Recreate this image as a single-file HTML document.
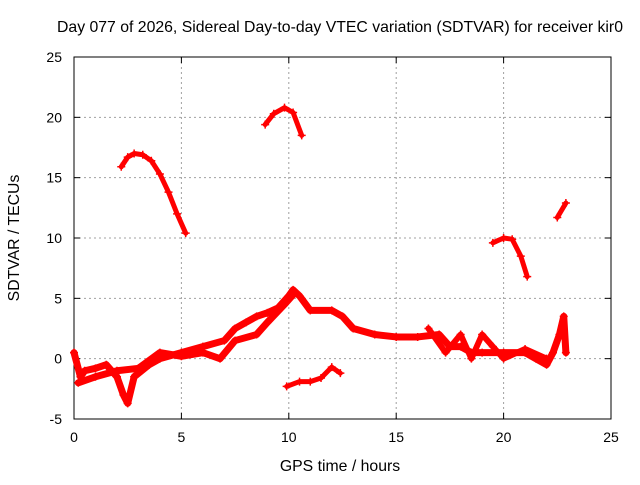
<!DOCTYPE html>
<html><head><meta charset="utf-8"><style>
body{margin:0;background:#fff}
svg text{font-family:"Liberation Sans",sans-serif;font-size:14px;fill:#000}
svg text.big{font-size:15.8px}
</style></head><body>
<svg id="chart" width="640" height="480" viewBox="0 0 640 480" xmlns="http://www.w3.org/2000/svg">
<rect width="640" height="480" fill="#fff"/>
<text class="big" x="340" y="32" text-anchor="middle">Day 077 of 2026, Sidereal Day-to-day VTEC variation (SDTVAR) for receiver kir0</text>
<text class="big" x="340" y="471" text-anchor="middle">GPS time / hours</text>
<text class="big" transform="translate(19,238) rotate(-90)" text-anchor="middle">SDTVAR / TECUs</text>
<g id="grid"></g><g id="axes"></g><g id="marks"></g>
</svg>
<script>
const xTicks=[0,5,10,15,20,25];
const yTicks=[-5,0,5,10,15,20,25];
const seriesArc1X=[2.2,2.5,2.8,3.2,3.6,4.0,4.4,4.8,5.2];
const seriesArc1Y=[15.9,16.7,17.0,16.9,16.4,15.3,13.8,12.0,10.4];
const seriesArc2X=[8.9,9.3,9.8,10.2,10.6];
const seriesArc2Y=[19.4,20.3,20.8,20.4,18.5];
const seriesArc3X=[19.5,20.0,20.4,20.8,21.1];
const seriesArc3Y=[9.6,10.0,9.9,8.5,6.8];
const seriesArc4X=[22.5,22.9];
const seriesArc4Y=[11.7,12.9];
const seriesLowX=[9.9,10.5,11.0,11.5,12.0,12.4];
const seriesLowY=[-2.3,-1.9,-1.9,-1.6,-0.7,-1.2];
const seriesMainX=[0,0.3,0.5,1,1.5,2,2.3,2.5,2.8,3.5,4,5,6,7,7.5,8,8.5,9,9.5,10,10.2,10.5,11,12,12.5,13,14,15,16,17,17.5,18,18.5,19,20,21,21.5,22,22.3,22.6,22.8,22.9];
const seriesMainY=[0.5,-1.5,-1.0,-0.8,-0.5,-1.5,-3.0,-3.7,-1.5,-0.5,0,0.5,1,1.5,2.5,3,3.5,3.8,4.2,5.2,5.7,5.2,4,4,3.5,2.5,2,1.8,1.8,2,1,1,0.5,0.5,0.5,0.5,0,-0.5,0.5,2,3.5,0.5];
const seriesBandX=[0.2,1,2,3,4,5,6,6.8,7.5,8.5,9,9.8,10.3];
const seriesBandY=[-2,-1.5,-1,-0.8,0.5,0.2,0.5,0,1.5,2,3,4.5,5.5];
const seriesBand2X=[16.5,17.3,18,18.5,19,19.5,20,21,22];
const seriesBand2Y=[2.5,0.5,2,0,2,1,0,0.8,0];
const L=74,R=611,T=57,B=419;
const sx=v=>L+(v-0)/(25-0)*(R-L);
const sy=v=>B-(v+5)/30*(B-T);
const NS="http://www.w3.org/2000/svg";
function mk(tag,attrs,parent){const e=document.createElementNS(NS,tag);for(const k in attrs)e.setAttribute(k,attrs[k]);parent.appendChild(e);return e;}
const grid=document.getElementById('grid'),axes=document.getElementById('axes'),marks=document.getElementById('marks');
xTicks.forEach(t=>{
 if(t>0&&t<25){const g=mk('line',{x1:sx(t),x2:sx(t),y1:T,y2:B,stroke:'#a0a0a0','stroke-dasharray':'2,3'},grid);
 
 }
 const tk=mk('text',{x:sx(t),y:B+23,'text-anchor':'middle'},axes);tk.textContent=t;
 
 
 mk('line',{x1:sx(t),x2:sx(t),y1:B,y2:B-6,stroke:'#000'},axes);
 mk('line',{x1:sx(t),x2:sx(t),y1:T,y2:T+6,stroke:'#000'},axes);
});
yTicks.forEach(t=>{
 if(t>-5&&t<25){const g=mk('line',{x1:L,x2:R,y1:sy(t),y2:sy(t),stroke:'#a0a0a0','stroke-dasharray':'2,3'},grid);
 
 }
 const tk=mk('text',{x:L-12,y:sy(t)+5,'text-anchor':'end'},axes);tk.textContent=t;
 
 
 mk('line',{x1:L,x2:L+6,y1:sy(t),y2:sy(t),stroke:'#000'},axes);
 mk('line',{x1:R,x2:R-6,y1:sy(t),y2:sy(t),stroke:'#000'},axes);
});
const fr=mk('rect',{x:L,y:T,width:R-L,height:B-T,fill:'none',stroke:'#000'},axes);


function series(xs,ys,name,w){
 const g=mk('g',{},marks);
 
 
 const d=xs.map((x,i)=>(i?'L':'M')+sx(x)+','+sy(ys[i])).join('');
 mk('path',{d:d,fill:'none',stroke:'#ff0000','stroke-width':w,'stroke-linejoin':'round','stroke-linecap':'round'},g);
 xs.forEach((x,i)=>{const px=sx(x),py=sy(ys[i]);
  mk('path',{d:`M${px-4},${py}h8M${px},${py-4}v8`,stroke:'#ff0000','stroke-width':1.5},g);});
}
series(seriesArc1X,seriesArc1Y,'series-arc-1',5);
series(seriesArc2X,seriesArc2Y,'series-arc-2',5);
series(seriesArc3X,seriesArc3Y,'series-arc-3',5);
series(seriesArc4X,seriesArc4Y,'series-arc-4',5);
series(seriesLowX,seriesLowY,'series-low-arc',5);
series(seriesMainX,seriesMainY,'series-main',7);
series(seriesBandX,seriesBandY,'series-band',7);
series(seriesBand2X,seriesBand2Y,'series-band-2',6);
</script>
</body></html>
